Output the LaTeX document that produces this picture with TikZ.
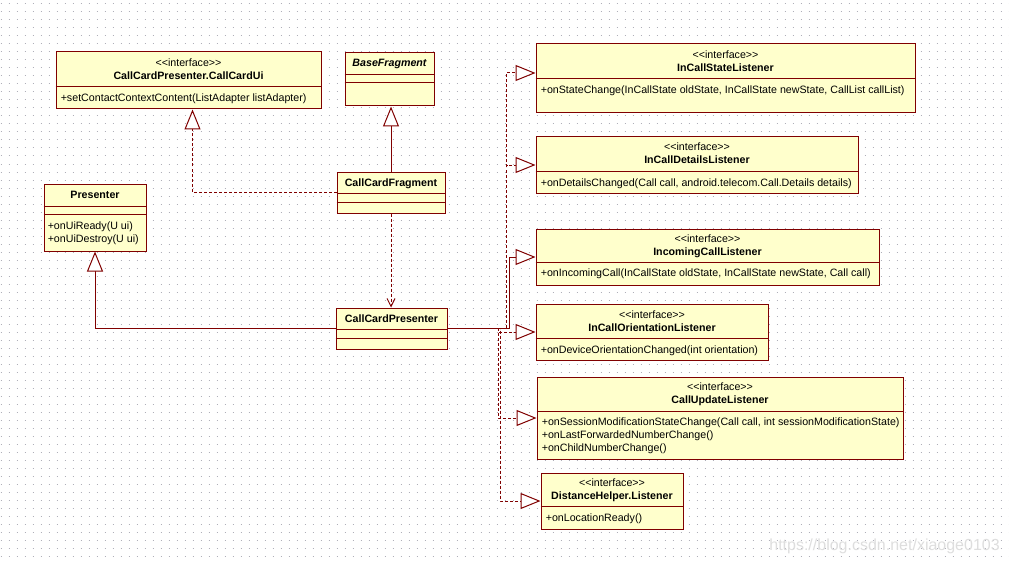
\documentclass[tikz,border=0pt]{standalone}
\usepackage{fontspec}
\setmainfont{Liberation Sans}
\usetikzlibrary{arrows.meta, positioning, calc, fit}
\definecolor{umlred}{RGB}{128,0,0}
\definecolor{umlfill}{RGB}{255,255,204}
\definecolor{griddot}{RGB}{175,175,185}
\definecolor{wmark}{RGB}{222,222,222}
\tikzset{
  classbox/.style={rectangle, draw=umlred, fill=umlfill, line width=0.75pt, inner sep=0pt},
  divider/.style={draw=umlred, line width=0.75pt},
  stereo/.style={anchor=base, inner sep=0pt, font=\fontsize{8}{9.75}\selectfont},
  cname/.style={anchor=base, inner sep=0pt, font=\fontsize{8}{9.75}\selectfont\bfseries},
  member/.style={anchor=base west, inner sep=0pt, font=\fontsize{8}{9.75}\selectfont},
  realize/.style={draw=umlred, line width=0.75pt, dash pattern=on 2.25pt off 1.5pt,
    -{Triangle[length=15pt, width=12pt, fill=white]}},
  extend/.style={draw=umlred, line width=0.75pt, -{Triangle[length=15pt, width=12pt, fill=white]}},
  depend/.style={draw=umlred, line width=0.75pt, dash pattern=on 2.25pt off 1.5pt,
    -{Straight Barb[length=6pt, width=6pt]}}
}

\begin{document}
\begin{tikzpicture}[x=0.75pt, y=-0.75pt]
  \useasboundingbox (0,0) rectangle (1009,563);
  \fill[white] (0,0) rectangle (1009,563);
  % dot grid
  \foreach \gy in {4,12,...,560}
    \draw[griddot, line width=0.75pt, dash pattern=on 0.75pt off 5.25pt] (0.5,\gy) -- (1009,\gy);

  % left side classes
  \node[classbox, fit={(56,52) (321,109)}] (ccui) {};
  \draw[divider] ($(ccui.north west)+(0,35)$) -- ($(ccui.north east)+(0,35)$);
  \node[stereo] (ccui-st) at ($(ccui.north)+(0,15)$) {<{}<interface>{}>};
  \node[cname] (ccui-nm) at ($(ccui.north)+(0,28)$) {CallCardPresenter.CallCardUi};
  \node[member] (ccui-m1) at ($(ccui.north west)+(5,50)$) {+setContactContextContent(ListAdapter listAdapter)};

  \node[classbox, fit={(345,53) (434,106)}] (basefrag) {};
  \draw[divider] ($(basefrag.north west)+(0,22)$) -- ($(basefrag.north east)+(0,22)$);
  \draw[divider] ($(basefrag.north west)+(0,30)$) -- ($(basefrag.north east)+(0,30)$);
  \node[cname] (basefrag-nm) at ($(basefrag.north)+(0,14)$) {\itshape BaseFragment};

  \node[classbox, fit={(337,172) (445,213)}] (ccfrag) {};
  \draw[divider] ($(ccfrag.north west)+(0,22)$) -- ($(ccfrag.north east)+(0,22)$);
  \draw[divider] ($(ccfrag.north west)+(0,31)$) -- ($(ccfrag.north east)+(0,31)$);
  \node[cname] (ccfrag-nm) at ($(ccfrag.north)+(0,15)$) {CallCardFragment};

  \node[classbox, fit={(44,184) (146,251)}] (presenter) {};
  \draw[divider] ($(presenter.north west)+(0,23)$) -- ($(presenter.north east)+(0,23)$);
  \draw[divider] ($(presenter.north west)+(0,31)$) -- ($(presenter.north east)+(0,31)$);
  \node[cname] (presenter-nm) at ($(presenter.north)+(0,15)$) {Presenter};
  \node[member] (presenter-m1) at ($(presenter.north west)+(4,46)$) {+onUiReady(U ui)};
  \node[member] (presenter-m2) at ($(presenter.north west)+(4,59)$) {+onUiDestroy(U ui)};

  \node[classbox, fit={(336,308) (447,349)}] (ccp) {};
  \draw[divider] ($(ccp.north west)+(0,22)$) -- ($(ccp.north east)+(0,22)$);
  \draw[divider] ($(ccp.north west)+(0,31)$) -- ($(ccp.north east)+(0,31)$);
  \node[cname] (ccp-nm) at ($(ccp.north)+(0,15)$) {CallCardPresenter};

  % listener interfaces
  \node[classbox, fit={(536,44) (915,113)}] (icstate) {};
  \draw[divider] ($(icstate.north west)+(0,35)$) -- ($(icstate.north east)+(0,35)$);
  \node[stereo] (icstate-st) at ($(icstate.north)+(0,15)$) {<{}<interface>{}>};
  \node[cname] (icstate-nm) at ($(icstate.north)+(0,28)$) {InCallStateListener};
  \node[member] (icstate-m1) at ($(icstate.north west)+(5,50)$) {+onStateChange(InCallState oldState, InCallState newState, CallList callList)};

  \node[classbox, fit={(536,137) (858,193)}] (icdetails) {};
  \draw[divider] ($(icdetails.north west)+(0,35)$) -- ($(icdetails.north east)+(0,35)$);
  \node[stereo] (icdetails-st) at ($(icdetails.north)+(0,14)$) {<{}<interface>{}>};
  \node[cname] (icdetails-nm) at ($(icdetails.north)+(0,27)$) {InCallDetailsListener};
  \node[member] (icdetails-m1) at ($(icdetails.north west)+(5,50)$) {+onDetailsChanged(Call call, android.telecom.Call.Details details)};

  \node[classbox, fit={(536,229) (879,285)}] (incoming) {};
  \draw[divider] ($(incoming.north west)+(0,34)$) -- ($(incoming.north east)+(0,34)$);
  \node[stereo] (incoming-st) at ($(incoming.north)+(0,14)$) {<{}<interface>{}>};
  \node[cname] (incoming-nm) at ($(incoming.north)+(0,27)$) {IncomingCallListener};
  \node[member] (incoming-m1) at ($(incoming.north west)+(5,48)$) {+onIncomingCall(InCallState oldState, InCallState newState, Call call)};

  \node[classbox, fit={(536,304) (768,360)}] (orient) {};
  \draw[divider] ($(orient.north west)+(0,35)$) -- ($(orient.north east)+(0,35)$);
  \node[stereo] (orient-st) at ($(orient.north)+(0,15)$) {<{}<interface>{}>};
  \node[cname] (orient-nm) at ($(orient.north)+(0,28)$) {InCallOrientationListener};
  \node[member] (orient-m1) at ($(orient.north west)+(5,50)$) {+onDeviceOrientationChanged(int orientation)};

  \node[classbox, fit={(537,377) (903,459)}] (callupd) {};
  \draw[divider] ($(callupd.north west)+(0,35)$) -- ($(callupd.north east)+(0,35)$);
  \node[stereo] (callupd-st) at ($(callupd.north)+(0,14)$) {<{}<interface>{}>};
  \node[cname] (callupd-nm) at ($(callupd.north)+(0,27)$) {CallUpdateListener};
  \node[member] (callupd-m1) at ($(callupd.north west)+(5,49)$) {+onSessionModificationStateChange(Call call, int sessionModificationState)};
  \node[member] (callupd-m2) at ($(callupd.north west)+(5,62)$) {+onLastForwardedNumberChange()};
  \node[member] (callupd-m3) at ($(callupd.north west)+(5,75)$) {+onChildNumberChange()};

  \node[classbox, fit={(541,473) (683,529)}] (disthelp) {};
  \draw[divider] ($(disthelp.north west)+(0,34)$) -- ($(disthelp.north east)+(0,34)$);
  \node[stereo] (disthelp-st) at ($(disthelp.north)+(0,14)$) {<{}<interface>{}>};
  \node[cname] (disthelp-nm) at ($(disthelp.north)+(0,27)$) {DistanceHelper.Listener};
  \node[member] (disthelp-m1) at ($(disthelp.north west)+(5,49)$) {+onLocationReady()};

  % relations
  \draw[realize] (ccfrag.west) -| ($(ccui.south)+(4,0)$);
  \draw[extend] (ccfrag.north) -- (ccfrag.north |- basefrag.south);
  \draw[depend] (ccfrag.south) -- (ccfrag.south |- ccp.north);
  \draw[extend] (ccp.west) -| (presenter.south);

  \draw[realize] (ccp.east) -- ++(59,0) |- ([yshift=4.125pt]icstate.west);
  \draw[realize] (ccp.east) -- ++(59,0) |- (icdetails.west);
  \draw[extend] (ccp.east) -- ++(62,0) |- (incoming.west);
  \draw[realize] (ccp.east) -- ++(51,0) |- (orient.west);
  \draw[realize] (ccp.east) -- ++(51,0) |- (callupd.west);
  \draw[realize] (ccp.east) -- ++(53,0) |- (disthelp.west);

  \node[anchor=base east, inner sep=0pt, text=wmark, font=\fontsize{12}{14}\selectfont] (wm) at (1000,550) {https://blog.csdn.net/xiaoge0103};
\end{tikzpicture}
\end{document}
